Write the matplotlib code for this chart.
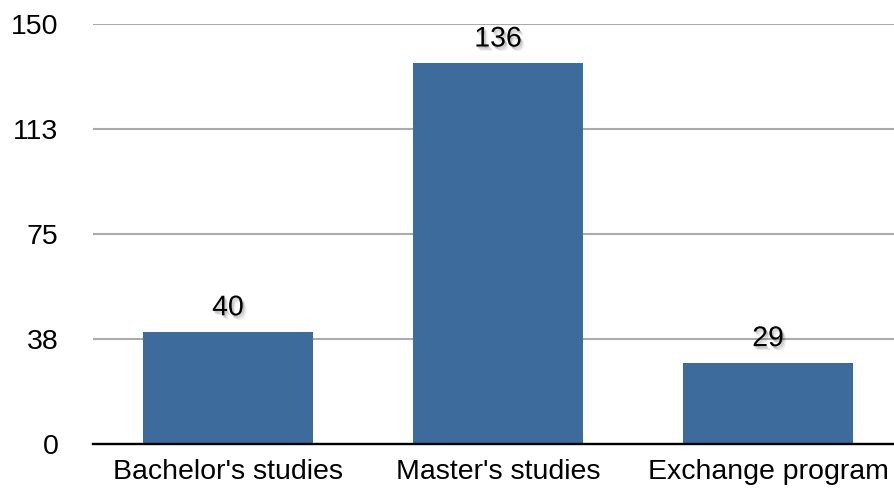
import matplotlib
matplotlib.use("Agg")
import matplotlib.pyplot as plt
import matplotlib.patheffects as pe

categories = ["Bachelor's studies", "Master's studies", "Exchange program"]
counts = [40, 136, 29]
y_ticks = [0, 37.5, 75, 112.5, 150]
y_tick_labels = ["0", "38", "75", "113", "150"]

plt.rcParams["font.family"] = ["Liberation Sans", "DejaVu Sans"]

fig = plt.figure(figsize=(8.95, 4.9), dpi=100)
ax = fig.add_axes([93 / 895, 46 / 490, 810 / 895, 420 / 490])

x = range(len(categories))
bars = ax.bar(x, counts, width=0.63, color="#3C6B9C", zorder=3)

ax.set_xlim(-0.5, len(categories) - 0.5)
ax.set_ylim(0, 150)
ax.set_yticks(y_ticks)
ax.set_yticklabels(y_tick_labels)
ax.set_xticks(list(x))
ax.set_xticklabels(categories)

ax.grid(axis="y", color="#ababab", linewidth=1.5, zorder=0)
for side in ("top", "right", "left"):
    ax.spines[side].set_visible(False)
ax.spines["bottom"].set_color("black")
ax.spines["bottom"].set_linewidth(1.7)
ax.spines["bottom"].set_zorder(4)

ax.tick_params(axis="both", length=0, labelsize=20.5, colors="black")
ax.tick_params(axis="y", pad=25)
ax.tick_params(axis="x", pad=11)

shadow = [
    pe.SimplePatchShadow(offset=(1.5, -2), shadow_rgbFace="#000000", alpha=0.12),
    pe.SimplePatchShadow(offset=(2.5, -3), shadow_rgbFace="#000000", alpha=0.08),
    pe.SimplePatchShadow(offset=(0.8, -1), shadow_rgbFace="#000000", alpha=0.12),
    pe.Normal(),
]
for bar, val in zip(bars, counts):
    ax.annotate(str(val), (bar.get_x() + bar.get_width() / 2, val),
                xytext=(0, 12), textcoords="offset points",
                ha="center", va="baseline", fontsize=20.5, color="black",
                path_effects=shadow, zorder=5)

fig.savefig("out.png", dpi=100)
